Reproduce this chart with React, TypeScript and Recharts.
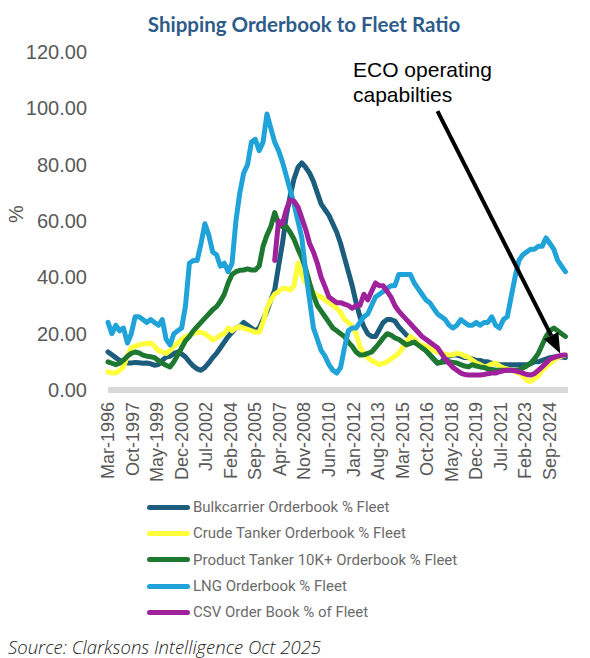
import { LineChart, Line, XAxis, YAxis, ReferenceLine } from 'recharts';

// month index from Mar-1996, one point per quarter
const months = Array.from({ length: 119 }, (_, i) => i * 3);

const xTickMonths = [0, 19, 38, 57, 76, 95, 114, 133, 152, 171, 190, 209, 228, 247, 266, 285, 304, 323, 342];
const xTickLabels = [
  'Mar-1996', 'Oct-1997', 'May-1999', 'Dec-2000', 'Jul-2002', 'Feb-2004', 'Sep-2005', 'Apr-2007', 'Nov-2008', 'Jun-2010',
  'Jan-2012', 'Aug-2013', 'Mar-2015', 'Oct-2016', 'May-2018', 'Dec-2019', 'Jul-2021', 'Feb-2023', 'Sep-2024',
];
const yTicks = [0, 20, 40, 60, 80, 100, 120];

const bulkcarrier = [
  13.5, 12.5, 11.5, 10.5, 10, 9.6, 9.6, 9.8, 9.7, 9.5,
  9.6, 9.3, 8.8, 9, 10.5, 11.7, 12, 13, 13.5, 12.8,
  11.7, 10, 8.5, 7.5, 7, 8, 9.6, 11.5, 13, 15,
  17, 19, 20.5, 22, 22.5, 24, 23, 22, 21, 22,
  25, 28, 32, 35.5, 44, 52, 62, 69, 75, 79,
  80.6, 79, 77, 74, 70, 66, 64, 62, 59, 56,
  52, 47, 42, 37, 31, 26, 22.5, 20, 19, 19,
  21.5, 24, 25, 25, 24.5, 22.5, 21, 19.5, 18.5, 17.8,
  16.5, 15, 14, 12.5, 11, 9.5, 10, 11.5, 12, 12.4,
  12.4, 12, 11.5, 11.5, 11, 10.5, 10.5, 10, 10, 9.5,
  9.3, 9, 9, 9, 9, 9, 9, 9, 9, 9.3,
  10, 10, 10.5, 11, 11.5, 11.7, 11.7, 11.7, 11.5,
];

const crudeTanker = [
  6.4, 6, 6, 7, 8.2, 12, 15, 15.5, 16, 16.3,
  16.5, 16.7, 15.5, 14, 13.5, 13, 14, 15.5, 16.7, 18,
  19, 19.5, 20, 20.6, 20.5, 20, 19, 17.8, 18.5, 19.5,
  20, 22, 21, 22, 22.5, 22, 21.5, 21, 20.5, 20.5,
  24, 29, 32, 34, 35, 36, 36, 35.5, 37, 45,
  41, 38, 36, 34.5, 33.5, 33, 32, 31, 30, 29,
  27.5, 25, 24, 22.5, 20, 15.4, 13, 11.5, 10.5, 9.8,
  9, 9.5, 10, 11, 12, 13, 15, 17, 19, 18,
  16.5, 16, 15.5, 15, 14, 13.5, 13, 12.7, 12.4, 12.5,
  13, 12.8, 12, 11.7, 10.5, 9.6, 9, 8.2, 8.5, 9.2,
  9.6, 8.5, 7.8, 7.5, 7, 6.5, 6, 5, 3.5, 3,
  4, 5, 7, 8.2, 9.5, 10.5, 11.5, 12, 12.4,
];

const productTanker = [
  10, 9.5, 9, 9.5, 10.6, 12, 13, 13.5, 13.2, 12.4,
  12, 11.8, 11.5, 10.5, 9.5, 8.8, 8.2, 10, 12.5, 15,
  17.5, 19, 21, 22.5, 24, 25.5, 27, 28.5, 29.6, 31.5,
  34, 38, 41, 42, 42.5, 42.6, 43, 42.6, 42.6, 44,
  51, 55, 58, 63, 59, 58, 58, 56, 53.5, 50,
  47, 43, 38, 33.5, 30, 28, 26, 24, 22, 21,
  20, 19, 17, 15.5, 13.5, 12.4, 12.5, 13, 13.5, 15,
  16.7, 18.5, 20, 19.5, 18.5, 18, 17, 16, 16.5, 17,
  16, 15, 14, 12.5, 11, 9.6, 9.8, 10, 10, 9.8,
  9.6, 9, 8.5, 8.2, 9, 8.5, 8.2, 8, 7.5, 7.3,
  7, 7, 7, 7, 7, 7, 7.2, 7.8, 8.5, 9.5,
  11, 13, 16, 19, 21, 22, 21, 20, 19,
];

const lngOrderbook = [
  24, 20, 23, 21, 22, 16.7, 20, 26, 26, 25,
  24, 25, 24, 23, 25, 18, 16, 20, 21, 22,
  30, 45, 46, 46, 52, 59, 55, 49, 48, 44,
  45, 42, 45, 60, 70, 77, 80, 88, 89, 85,
  88, 98, 93, 88, 85, 81, 76, 71, 66, 60,
  54, 42, 32, 22, 18, 14, 12, 9, 7, 6,
  8, 15, 21, 22, 22, 24, 26, 27, 30, 33,
  34, 35, 36, 37, 37, 41, 41, 41, 41, 38,
  36, 34, 32, 31, 29, 27, 26, 25, 23, 22,
  23, 25, 24, 23, 23, 24, 23, 24, 24, 26,
  23, 22, 25, 26, 33, 40, 46, 48, 49, 50,
  50, 51, 51, 54, 52, 50, 46, 44, 42,
];

// CSV series starts later (month index 129)
const csvStartMonth = 129;
const csvOrderbook = [
  46, 60, 59, 64, 67.5, 67, 65,
  61, 57, 52, 49, 45, 40, 36.6, 33, 32, 31,
  31, 30.5, 30, 29, 30, 30, 34, 32, 35, 38,
  37, 37, 35, 33, 30, 28, 26.5, 25, 23.5, 22,
  20.5, 19, 18, 17, 16, 15, 13, 11, 9.5, 8,
  7, 6, 5.5, 5.3, 5.3, 5.3, 5.3, 5.5, 5.8, 6,
  6, 6.5, 6.8, 7, 7, 6.8, 6.5, 6, 5.5, 5.3,
  5.8, 7, 8.2, 9.5, 11, 11.5, 12, 12.3, 12.4,
];

const data = months.map((m, i) => ({
  m,
  bulk: bulkcarrier[i],
  crude: crudeTanker[i],
  product: productTanker[i],
  lng: lngOrderbook[i],
  csv: m >= csvStartMonth ? csvOrderbook[(m - csvStartMonth) / 3] : null,
}));

const series = [
  { key: 'bulk', name: 'Bulkcarrier Orderbook % Fleet', color: '#1C5D7D' },
  { key: 'crude', name: 'Crude Tanker Orderbook % Fleet', color: '#FFFF3C' },
  { key: 'product', name: 'Product Tanker 10K+ Orderbook % Fleet', color: '#1E7830' },
  { key: 'lng', name: 'LNG Orderbook % Fleet', color: '#1FA3D8' },
  { key: 'csv', name: 'CSV Order Book % of Fleet', color: '#A0219C' },
];

const GREY = '#595959';
const SANS = '"Liberation Sans", Arial, sans-serif';

function XTick({ x, y, payload }: any) {
  const label = xTickLabels[xTickMonths.indexOf(payload.value)] ?? '';
  return (
    <text x={x} y={y} transform={`rotate(-90 ${x} ${y})`} textAnchor="end" dominantBaseline="central"
      fill={GREY} fontSize={18} fontFamily={SANS}>{label}</text>
  );
}

function Arrow(props: any) {
  const { x1, y1, x2, y2 } = props;
  const dx = x2 - x1, dy = y2 - y1;
  const len = Math.sqrt(dx * dx + dy * dy);
  const ux = dx / len, uy = dy / len;
  const hl = 20, hw = 8;
  const bx = x2 - ux * hl, by = y2 - uy * hl;
  return (
    <g>
      <line x1={x1} y1={y1} x2={bx} y2={by} stroke="#000" strokeWidth={4} />
      <polygon points={`${x2},${y2} ${bx - uy * hw},${by + ux * hw} ${bx + uy * hw},${by - ux * hw}`} fill="#000" />
    </g>
  );
}

export default function App() {
  return (
    <div style={{ position: 'absolute', left: 0, top: 0, width: 590, height: 658, background: '#fff', overflow: 'hidden' }}>
      <div style={{ position: 'absolute', left: 0, width: 608, top: 12, textAlign: 'center', fontFamily: 'Lato, sans-serif', fontWeight: 700, fontSize: 20.5, color: '#2E5C8A' }}>
        Shipping Orderbook to Fleet Ratio
      </div>
      <LineChart width={590} height={658} data={data} margin={{ top: 52, right: 22, bottom: 168, left: 0 }}>
        <XAxis dataKey="m" type="number" domain={[0, 356]} ticks={xTickMonths} interval={0} height={100}
          tickSize={0} tickMargin={12} tick={<XTick />} axisLine={{ stroke: '#D9D9D9', strokeWidth: 6 }} tickLine={false} />
        <YAxis domain={[0, 120]} ticks={yTicks} width={108} tickSize={0} tickMargin={21} axisLine={false} tickLine={false}
          tickFormatter={(v: number) => v.toFixed(2)} tick={{ fontSize: 20, fill: GREY, fontFamily: SANS }}
          label={{ content: () => <text x={16} y={214} transform="rotate(-90 16 214)" textAnchor="middle" dominantBaseline="central" fill={GREY} fontSize={20} fontFamily={SANS}>%</text> }} />
        {series.map((s) => (
          <Line key={s.key} type="linear" dataKey={s.key} name={s.name} stroke={s.color} strokeWidth={5}
            dot={false} strokeLinejoin="round" strokeLinecap="round" isAnimationActive={false} />
        ))}
        <ReferenceLine segment={[{ x: 255, y: 99 }, { x: 350, y: 13 }]} shape={<Arrow />} ifOverflow="visible" />
      </LineChart>
      <div style={{ position: 'absolute', left: 353, top: 57, fontFamily: SANS, fontSize: 21, lineHeight: '25px', color: '#000' }}>
        ECO operating<br />capabilties
      </div>
      <div style={{ position: 'absolute', left: 147, top: 494 }}>
        {series.map((s) => (
          <div key={s.key} style={{ display: 'flex', alignItems: 'center', height: 26.3 }}>
            <span style={{ width: 43, height: 5, borderRadius: 3, background: s.color, display: 'inline-block' }} />
            <span style={{ marginLeft: 3, fontFamily: 'Roboto, sans-serif', fontSize: 15, color: '#6B6B6B' }}>{s.name}</span>
          </div>
        ))}
      </div>
      <div style={{ position: 'absolute', left: 8, top: 634, fontFamily: '"Open Sans", sans-serif', fontStyle: 'italic', fontWeight: 300, fontSize: 18.5, color: '#222' }}>
        Source: Clarksons Intelligence Oct 2025
      </div>
    </div>
  );
}
